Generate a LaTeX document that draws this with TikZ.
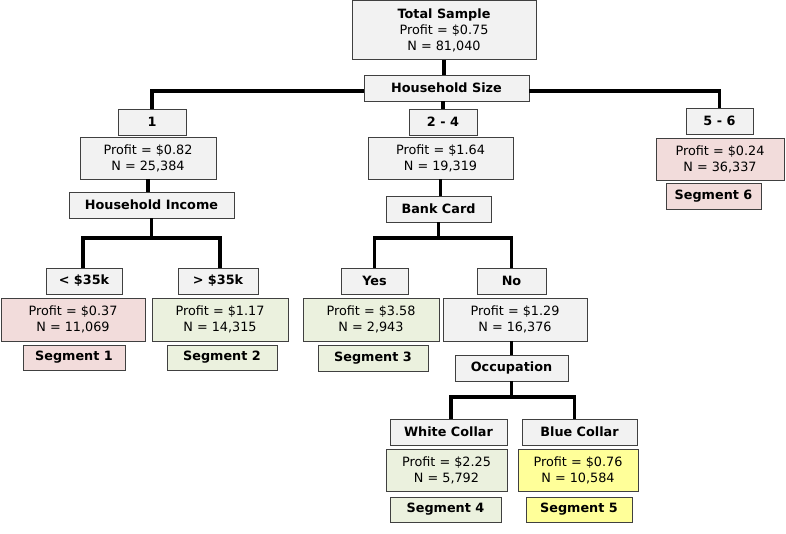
\documentclass[tikz,border=0pt]{standalone}
\usepackage{fontspec}
\setmainfont{DejaVu Sans}
\definecolor{boxgray}{HTML}{F2F2F2}
\definecolor{segpink}{HTML}{F2DCDB}
\definecolor{seggreen}{HTML}{EBF1DE}
\definecolor{segyellow}{HTML}{FFFF99}
\begin{document}
\begin{tikzpicture}[x=1pt, y=-1pt,
    box/.style={draw=black!75, line width=0.8pt, fill=boxgray, inner sep=0pt,
      align=center, font=\fontsize{12.8}{16}\selectfont},
    lbl/.style={box, font=\fontsize{12.8}{16}\selectfont\bfseries},
    pink/.style={fill=segpink}, green/.style={fill=seggreen}, yellow/.style={fill=segyellow},
    link/.style={line width=3.5pt}]
  \useasboundingbox[fill=white] (0,0) rectangle (786,534);

  % root and first split
  \node[box, minimum width=184, minimum height=59] (total)at(444,30) {\textbf{Total Sample}\\Profit = \$0.75\\N = 81,040};
  \node[lbl, minimum width=165, minimum height=26] (hsize)at(446.5,88) {Household Size};

  \node[lbl, minimum width=68, minimum height=26] (s1)at(152,122) {1};
  \node[box, minimum width=136, minimum height=42] (p1)at(148,158) {Profit = \$0.82\\N = 25,384};
  \node[lbl, minimum width=165, minimum height=26] (hinc)at(151.5,205) {Household Income};

  \node[lbl, minimum width=68, minimum height=26] (s24)at(443,122) {2 - 4};
  \node[box, minimum width=145, minimum height=42] (p24)at(440.5,158) {Profit = \$1.64\\N = 19,319};
  \node[lbl, minimum width=105, minimum height=26] (bank)at(438.5,209) {Bank Card};

  \node[lbl, minimum width=67, minimum height=26] (s56)at(719.5,121) {5 - 6};
  \node[box, pink, minimum width=128, minimum height=42] (p56)at(720,159) {Profit = \$0.24\\N = 36,337};
  \node[lbl, pink, minimum width=95, minimum height=26] (seg6)at(713.5,196) {Segment 6};

  % household income
  \node[lbl, minimum width=76, minimum height=26] (lt)at(84,281) {< \$35k};
  \node[box, pink, minimum width=144, minimum height=43] (plt)at(73,319.5) {Profit = \$0.37\\N = 11,069};
  \node[lbl, pink, minimum width=102, minimum height=25] (seg1)at(74,357.5) {Segment 1};
  \node[lbl, minimum width=80, minimum height=26] (gt)at(218,281) {> \$35k};
  \node[box, green, minimum width=136, minimum height=43] (pgt)at(220,319.5) {Profit = \$1.17\\N = 14,315};
  \node[lbl, green, minimum width=110, minimum height=25] (seg2)at(222,357.5) {Segment 2};

  % bank card
  \node[lbl, minimum width=67, minimum height=26] (yes)at(374.5,281) {Yes};
  \node[box, green, minimum width=136, minimum height=43] (pyes)at(371,319.5) {Profit = \$3.58\\N = 2,943};
  \node[lbl, green, minimum width=110, minimum height=26] (seg3)at(373,358) {Segment 3};
  \node[lbl, minimum width=69, minimum height=26] (no)at(511.5,281) {No};
  \node[box, minimum width=144, minimum height=43] (pno)at(515,319.5) {Profit = \$1.29\\N = 16,376};
  \node[lbl, minimum width=113, minimum height=26] (occ)at(511.5,368) {Occupation};

  % occupation
  \node[lbl, minimum width=117, minimum height=26] (white)at(448.5,432) {White Collar};
  \node[box, green, minimum width=121, minimum height=42] (pwhite)at(446.5,470) {Profit = \$2.25\\N = 5,792};
  \node[lbl, green, minimum width=111, minimum height=25] (seg4)at(445.5,509.5) {Segment 4};
  \node[lbl, minimum width=115, minimum height=26] (blue)at(579.5,432) {Blue Collar};
  \node[box, yellow, minimum width=120, minimum height=42] (pblue)at(578,470) {Profit = \$0.76\\N = 10,584};
  \node[lbl, yellow, minimum width=106, minimum height=25] (seg5)at(579,509.5) {Segment 5};

  \coordinate (j1)at(151.5,238);
  \coordinate (j2)at(438.5,238);
  \coordinate (j3)at(511.5,397);

  \draw[link] (total.south)--(hsize.north -| total.south);
  \draw[link] ([yshift=-3pt]hsize.west)-|(s1.north);
  \draw[link] ([yshift=-3pt]hsize.east)-|(s56.north);
  \draw[link] (hsize.south -| s24)--(s24.north);

  \draw[link] (p1.south)--(hinc.north -| p1.south);
  \draw[link] (hinc)--(j1);
  \draw[link] ([xshift=-1pt]lt.north)|-(j1)-|([xshift=2pt]gt.north);

  \draw[link] (p24.south)--(bank.north -| p24.south);
  \draw[link] (bank)--(j2);
  \draw[link] (yes.north)|-(j2)-|(no.north);

  \draw[link] (pno.south -| occ)--(occ.north);
  \draw[link] (occ)--(j3);
  \draw[link] ([xshift=2.5pt]white.north)|-(j3)-|([xshift=-5pt]blue.north);
\end{tikzpicture}
\end{document}
